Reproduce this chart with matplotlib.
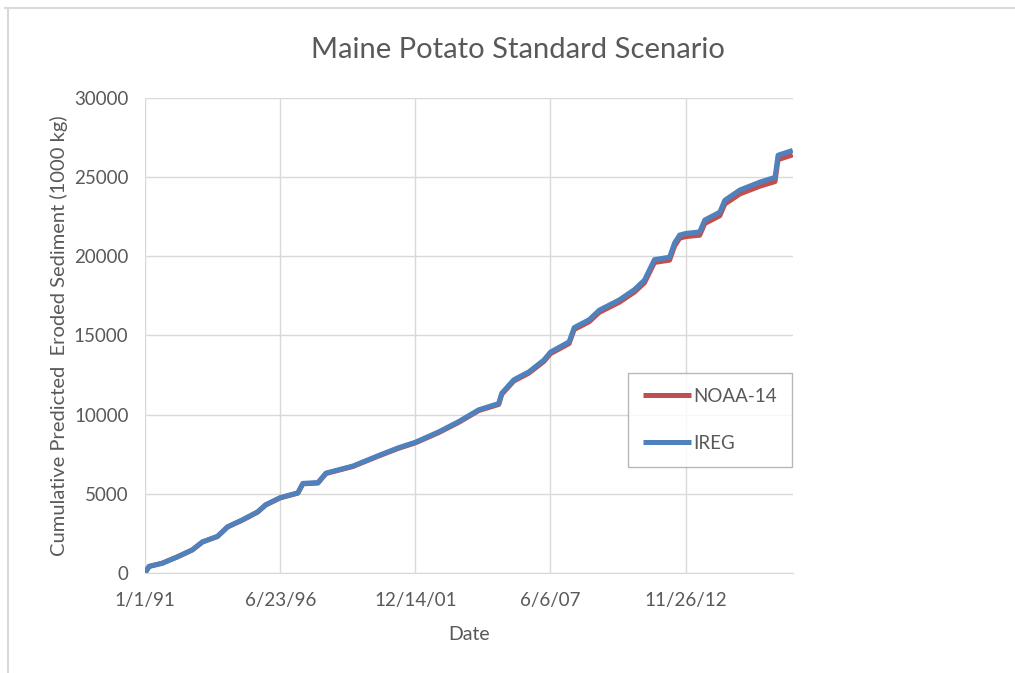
import matplotlib
matplotlib.use("Agg")
import matplotlib.pyplot as plt
import numpy as np
import pandas as pd
from matplotlib.lines import Line2D

# Read-off points of the cumulative curves (1000 kg)
dates = [
    "1991-01-01", "1991-03-01", "1991-09-10", "1992-04-21", "1992-11-30",
    "1993-04-28", "1993-12-07", "1994-05-04", "1994-12-13", "1995-07-24",
    "1995-11-20", "1996-06-23", "1997-03-10", "1997-05-24", "1998-01-02",
    "1998-05-01", "1999-06-06", "2000-06-12", "2001-04-06", "2001-12-14",
    "2002-11-21", "2003-09-14", "2004-07-08", "2005-05-01", "2005-06-15",
    "2005-12-10", "2006-07-21", "2007-03-01", "2007-06-06", "2008-03-08",
    "2008-05-22", "2008-12-31", "2009-05-28", "2010-03-21", "2010-10-30",
    "2011-03-28", "2011-08-24", "2012-04-03", "2012-06-16", "2012-08-30",
    "2012-11-26", "2013-06-23", "2013-09-06", "2014-04-17", "2014-06-30",
    "2015-02-08", "2015-12-02", "2016-07-12", "2016-08-26", "2017-03-31",
]
ireg = [
    0, 400, 600, 1000, 1450,
    1950, 2300, 2900, 3350, 3850,
    4300, 4750, 5050, 5650, 5700,
    6300, 6750, 7400, 7900, 8250,
    8900, 9550, 10300, 10700, 11350,
    12200, 12700, 13450, 13950, 14600,
    15500, 16000, 16600, 17250, 17900,
    18500, 19800, 19950, 20850, 21350,
    21450, 21550, 22300, 22800, 23550,
    24200, 24700, 25000, 26400, 26700,
]
noaa14 = [
    0, 400, 600, 1000, 1440,
    1940, 2290, 2890, 3330, 3830,
    4280, 4730, 5030, 5620, 5670,
    6270, 6720, 7370, 7860, 8210,
    8850, 9500, 10250, 10640, 11280,
    12120, 12620, 13360, 13850, 14490,
    15380, 15870, 16460, 17100, 17740,
    18330, 19620, 19760, 20650, 21150,
    21250, 21340, 22080, 22570, 23310,
    23950, 24440, 24730, 26120, 26420,
]
x_ticks = ["1991-01-01", "1996-06-23", "2001-12-14", "2007-06-06", "2012-11-26"]
x_tick_labels = ["1/1/91", "6/23/96", "12/14/01", "6/6/07", "11/26/12"]

FONT = ["Lato", "DejaVu Sans"]
TEXT = "#595959"
GRID = "#d9d9d9"

plt.rcParams["font.family"] = FONT

fig = plt.figure(figsize=(10.15, 6.73), dpi=100)
fig.patch.set_facecolor("white")
ax = fig.add_axes([0.143, 0.149, 0.638, 0.705])

d = pd.to_datetime(dates)
ax.plot(d, noaa14, color="#c0504d", lw=3.6, label="NOAA-14", solid_capstyle="butt")
ax.plot(d, ireg, color="#4f81bd", lw=3.6, label="IREG", solid_capstyle="butt")

ax.set_ylim(0, 30000)
ax.set_yticks(np.arange(0, 30001, 5000))
ax.set_xlim(d[0], d[-1])
ax.set_xticks(pd.to_datetime(x_ticks))
ax.set_xticklabels(x_tick_labels)

ax.grid(True, color=GRID, lw=1)
ax.set_axisbelow(True)
for side in ["top", "right", "left"]:
    ax.spines[side].set_visible(False)
ax.spines["bottom"].set_color(GRID)
ax.tick_params(length=0, labelsize=13.5, colors=TEXT)
ax.tick_params(axis="y", pad=12)
ax.tick_params(axis="x", pad=14)

# title is centred on the whole chart area, not on the plot
fig.text(0.51, 0.926, "Maine Potato Standard Scenario", fontsize=21, color=TEXT, ha="center", va="center")
ax.set_xlabel("Date", fontsize=14, color=TEXT, labelpad=12)
ax.set_ylabel("Cumulative Predicted  Eroded Sediment (1000 kg)", fontsize=14.5, color=TEXT, labelpad=4)

leg = ax.legend(loc="upper left", bbox_to_anchor=(0.745, 0.421), frameon=True, fancybox=False,
                fontsize=13.5, labelspacing=1.6, handlelength=2.6, handletextpad=0.1,
                borderpad=0.8, borderaxespad=0)
leg.get_frame().set_edgecolor("#a6a6a6")
leg.get_frame().set_linewidth(1)
for t in leg.get_texts():
    t.set_color(TEXT)

# outer chart border (cropped on right and bottom)
fig.add_artist(Line2D([0.005, 1.0], [0.988, 0.988], color=GRID, lw=1.5, transform=fig.transFigure))
fig.add_artist(Line2D([0.008, 0.008], [0.0, 0.988], color=GRID, lw=1.5, transform=fig.transFigure))

fig.savefig("out.png", dpi=100)
